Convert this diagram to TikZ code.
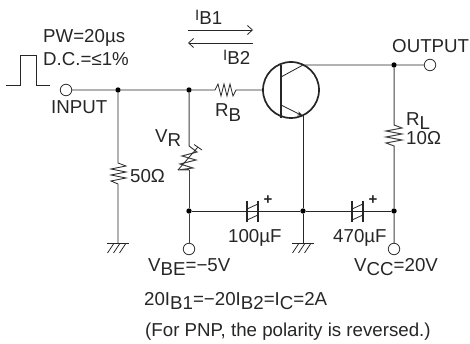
\documentclass[tikz,border=0pt]{standalone}
\usepackage{fontspec}
\setmainfont{Liberation Sans}
\usetikzlibrary{arrows.meta,calc}
\newcommand{\sbs}[1]{\raisebox{-4.5pt}{#1}}
\newcommand{\smi}[1]{{\fontsize{15}{15}\selectfont #1}}
\begin{document}
\begin{tikzpicture}[x=1pt,y=-1pt,
  wire/.style={line width=0.8pt,draw=black!85},
  thick wire/.style={line width=1pt,draw=black!75},
  dot/.style={circle,fill=black,inner sep=0pt,minimum size=5.4pt},
  term/.style={circle,draw=black!80,fill=white,line width=0.8pt,inner sep=0pt,minimum size=11.5pt},
  lab/.style={inner sep=0pt,font=\fontsize{18.7}{18.7}\selectfont,text=black!85},
  plate/.style={line width=1.5pt,draw=black!85}]
\useasboundingbox (0,0) rectangle (470,344);
% nodes
\node[term] (in) at (66,90) {};
\node[term] (out) at (430,65) {};
\node[term] (vbe) at (189,249) {};
\node[term] (vcc) at (394,249) {};
\node[dot] (j1) at (118,90) {};
\node[dot] (j2) at (189,90) {};
\node[dot] (j3) at (394,65) {};
\node[dot] (j4) at (189,211) {};
\node[dot] (j5) at (303,211) {};
\node[dot] (j6) at (394,211) {};
\coordinate (c1) at (303,65);
\coordinate (e1) at (303,116);
\coordinate (g1) at (118,243);
\coordinate (g2) at (303,243);
% input wire
\draw[wire] (in) -- (j1) -- (j2) -- (215,90) -- (218,84) -- (221,96) -- (224,84) -- (227,96) -- (230,84) -- (233,96) -- (236,90) -- (264,90);
% transistor
\draw[line width=1.7pt,draw=black!85] (291,90) circle (28);
\draw[line width=1.7pt,draw=black!85] (281,65) -- (281,118);
\draw[wire] (281,77) -- (c1) -- (j3) -- (out);
\draw[wire,-{Stealth[length=6pt,width=4pt]}] (281,105) -- (e1);
\draw[wire] (e1) -- (j5) -- (g2);
% 50 ohm
\draw[wire] (j1) -- (118,163) -- (126,166) -- (111,169) -- (126,172) -- (111,175) -- (126,178) -- (111,181) -- (118,184) -- (g1);
% RL
\draw[thick wire] (j3) -- (394,125) -- (402,128) -- (386,131) -- (402,134) -- (386,137) -- (402,140) -- (386,143) -- (394,146) -- (j6) -- (vcc);
% VR
\draw[thick wire] (j2) -- (189,146) -- (197,152) -- (182,156) -- (196,160) -- (180,164) -- (193,168) -- (178,170) -- (189,170);
\draw[thick wire] (189,170) -- (j4) -- (vbe);
\draw[wire] (178,170) -- (198,147);
\draw[wire] (194,144.5) -- (202,150);
% bottom wire
\draw[wire] (j4) -- (j5) -- (j6);
\draw[plate] (247,201) -- (247,222);
\draw[plate] (258,201) -- (258,222);
\draw[wire] (247,209) -- (258,204);
\draw[wire] (247,220) -- (258,215);
\draw[plate] (352,201) -- (352,222);
\draw[plate] (363,201) -- (363,222);
\draw[wire] (352,209) -- (363,204);
\draw[wire] (352,220) -- (363,215);
% grounds
\foreach \g in {g1,g2}{
  \draw[wire] ($(\g)+(-11,0)$) -- ($(\g)+(11,0)$);
  \foreach \d in {-6,0,6}{\draw[wire] ($(\g)+(\d+1.5,1)$) -- ($(\g)+(\d-4.5,10)$);}
}
% pulse
\draw[wire] (6,85) -- (20,85) -- (20,55) -- (36,55) -- (36,85) -- (50,85);
% current arrows
\draw[wire,-{Straight Barb[length=5pt,width=9pt]}] (188,30) -- (253,30);
\draw[wire,-{Straight Barb[length=5pt,width=9pt]}] (253,43) -- (188,43);
% text
\node[lab,anchor=base west] (t1) at (43,43) {PW=20µs};
\node[lab,anchor=base west] (t2) at (43,66) {D.C.=≤1\%};
\node[lab,anchor=base west] (t3) at (51,114) {INPUT};
\node[lab,anchor=base west] (t4) at (195,20.5) {\smi{I}\sbs{B1}};
\node[lab,anchor=base west] (t5) at (223,60.5) {\smi{I}\sbs{B2}};
\node[lab,anchor=base west] (t6) at (155,142.5) {V\sbs{R}};
\node[lab,anchor=base west] (t7) at (215,117) {R\sbs{B}};
\node[lab,anchor=base west] (t8) at (130,183) {50Ω};
\node[lab,anchor=base west] (t9) at (406,125.5) {R\sbs{L}};
\node[lab,anchor=base west] (t10) at (406,145) {10Ω};
\node[lab,anchor=base west] (t11) at (392,53) {OUTPUT};
\node[lab,anchor=base west] (t12) at (228,243) {100µF};
\node[lab,anchor=base west] (t13) at (333,243) {470µF};
\node[lab,anchor=base west] (t14) at (148,271) {V\sbs{BE}=−5V};
\node[lab,anchor=base west] (t15) at (354,271) {V\sbs{CC}=20V};
\node[lab,anchor=base west] (t16) at (144,305) {20I\sbs{B1}=−20I\sbs{B2}=I\sbs{C}=2A};
\node[lab,anchor=base west] (t17) at (145,336) {(For PNP, the polarity is reversed.)};
\node[lab,font=\fontsize{15}{15}\selectfont\bfseries] (p1) at (268,200) {+};
\node[lab,font=\fontsize{15}{15}\selectfont\bfseries] (p2) at (373,200) {+};
\end{tikzpicture}
\end{document}
